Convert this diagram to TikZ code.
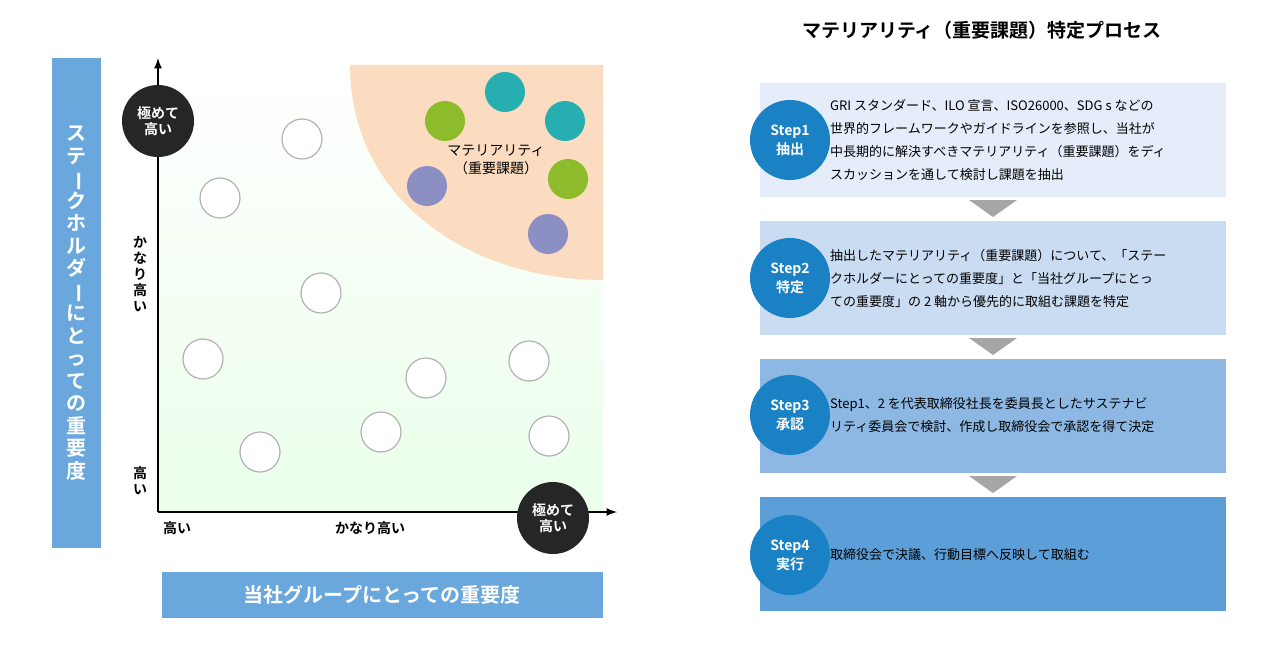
\documentclass[tikz,border=0pt]{standalone}
\usepackage{fontspec}
\setmainfont{Noto Sans CJK JP}[BoldFont={Noto Sans CJK JP Bold}]
\usetikzlibrary{positioning}
\definecolor{barblue}{HTML}{6AA7DC}
\definecolor{stepblue}{HTML}{1A82C4}
\definecolor{peach}{HTML}{FBDCC0}
\definecolor{matgreen}{HTML}{8CBB2C}
\definecolor{matteal}{HTML}{26AEB0}
\definecolor{matpurple}{HTML}{8C8FC4}
\definecolor{boxa}{HTML}{E4EDF9}
\definecolor{boxb}{HTML}{CADCF2}
\definecolor{boxc}{HTML}{8DB8E4}
\definecolor{boxd}{HTML}{5B9ED8}
\tikzset{
  issue/.style={draw=black!30,line width=1.2pt,fill=white,circle,minimum size=40pt,inner sep=0pt},
  mat/.style={circle,minimum size=40pt,inner sep=0pt},
  level/.style={circle,fill=black!85,text=white,font=\bfseries\fontsize{14}{16}\selectfont,align=center,minimum size=72pt,inner sep=0pt},
  axlabel/.style={font=\bfseries\fontsize{14}{16}\selectfont,align=center,inner sep=0pt},
  stepbox/.style={minimum width=466pt,minimum height=114pt,anchor=north west,inner sep=0pt},
  stepdot/.style={circle,fill=stepblue,text=white,font=\bfseries\fontsize{14}{19}\selectfont,align=center,minimum size=80pt,inner sep=0pt},
  steptext/.style={anchor=west,align=left,font=\fontsize{13}{23}\selectfont,inner sep=0pt},
  down/.style={fill=black!35,draw=none}
}
\newcommand{\vlong}{\rotatebox[origin=c]{-90}{ー}}
\begin{document}
\begin{tikzpicture}[x=1pt,y=-1pt]
\useasboundingbox (0,0) rectangle (1261,669);
% left side bars
\fill[barblue] (52,58) rectangle (101,548);
\node[text=white,font=\bfseries\fontsize{20}{22.5}\selectfont,align=center,inner sep=0pt] (yaxtitle) at (76,303)
  {ス\\テ\\\vlong\\ク\\ホ\\ル\\ダ\\\vlong\\に\\と\\っ\\て\\の\\重\\要\\度};
\fill[barblue] (162,572) rectangle (603,618);
\node[text=white,font=\bfseries\fontsize{20}{22}\selectfont] (xaxtitle) at (382,595) {当社グループにとっての重要度};
% plot area
\shade[left color=green!6!white,right color=white,shading angle=45] (158,65) rectangle (603,512);
\shade[bottom color=green!8!white,top color=white] (158,65) rectangle (603,512);
\fill[peach] (350,65) -- (603,65) -- (603,280) .. controls (470,280) and (350,200) .. (350,65);
\coordinate (o) at (158,512);
\coordinate (ytop) at (158,58);
\coordinate (xend) at (617,512);
\draw[line width=2.5pt,-latex] (o) -- (ytop);
\draw[line width=2.5pt,-latex] (o) -- (xend);
% issues
\node[issue] (i1) at (302,139) {};
\node[issue] (i2) at (220,198) {};
\node[issue] (i3) at (321,293) {};
\node[issue] (i4) at (203,359) {};
\node[issue] (i5) at (426,378) {};
\node[issue] (i6) at (529,361) {};
\node[issue] (i7) at (381,432) {};
\node[issue] (i8) at (260,452) {};
\node[issue] (i9) at (549,436) {};
\node[mat,fill=matgreen] (m1) at (445,121) {};
\node[mat,fill=matteal] (m2) at (505,92) {};
\node[mat,fill=matteal] (m3) at (565,121) {};
\node[mat,fill=matgreen] (m4) at (568,179) {};
\node[mat,fill=matpurple] (m5) at (427,186) {};
\node[mat,fill=matpurple] (m6) at (548,234) {};
\node[font=\fontsize{14}{18}\selectfont,align=center] (matlabel) at (496,160) {マテリアリティ\\（重要課題）};
\node[level] (ymax) at (158,121) {極めて\\高い};
\node[level] (xmax) at (553,518) {極めて\\高い};
\node[axlabel] (ymid) at (140,274) {か\\な\\り\\高\\い};
\node[axlabel] (ylow) at (140,481) {高\\い};
\node[axlabel] (xlow) at (177,528) {高い};
\node[axlabel] (xmid) at (370,528) {かなり高い};
% process
\node[font=\bfseries\fontsize{19}{22}\selectfont] (title) at (982,30) {マテリアリティ（重要課題）特定プロセス};
\node[stepbox,fill=boxa] (b1) at (760,83) {};
\node[stepbox,fill=boxb] (b2) at (760,221) {};
\node[stepbox,fill=boxc] (b3) at (760,359) {};
\node[stepbox,fill=boxd] (b4) at (760,497) {};
\node[stepdot] (s1) at (790,140) {Step1\\抽出};
\node[stepdot] (s2) at (790,278) {Step2\\特定};
\node[stepdot] (s3) at (790,415) {Step3\\承認};
\node[stepdot] (s4) at (790,555) {Step4\\実行};
\node[steptext] (t1) at (830,140) {GRI スタンダード、ILO 宣言、ISO26000、SDG s などの\\世界的フレームワークやガイドラインを参照し、当社が\\中長期的に解決すべきマテリアリティ（重要課題）をディ\\スカッションを通して検討し課題を抽出};
\node[steptext] (t2) at (830,278) {抽出したマテリアリティ（重要課題）について、「ステー\\クホルダーにとっての重要度」と「当社グループにとっ\\ての重要度」の 2 軸から優先的に取組む課題を特定};
\node[steptext] (t3) at (830,415) {Step1、2 を代表取締役社長を委員長としたサステナビ\\リティ委員会で検討、作成し取締役会で承認を得て決定};
\node[steptext] (t4) at (830,555) {取締役会で決議、行動目標へ反映して取組む};
\foreach \y in {200,338,476}
  \fill[down] (969,\y) -- (1017,\y) -- (993,\y+17) -- cycle;
\end{tikzpicture}
\end{document}
